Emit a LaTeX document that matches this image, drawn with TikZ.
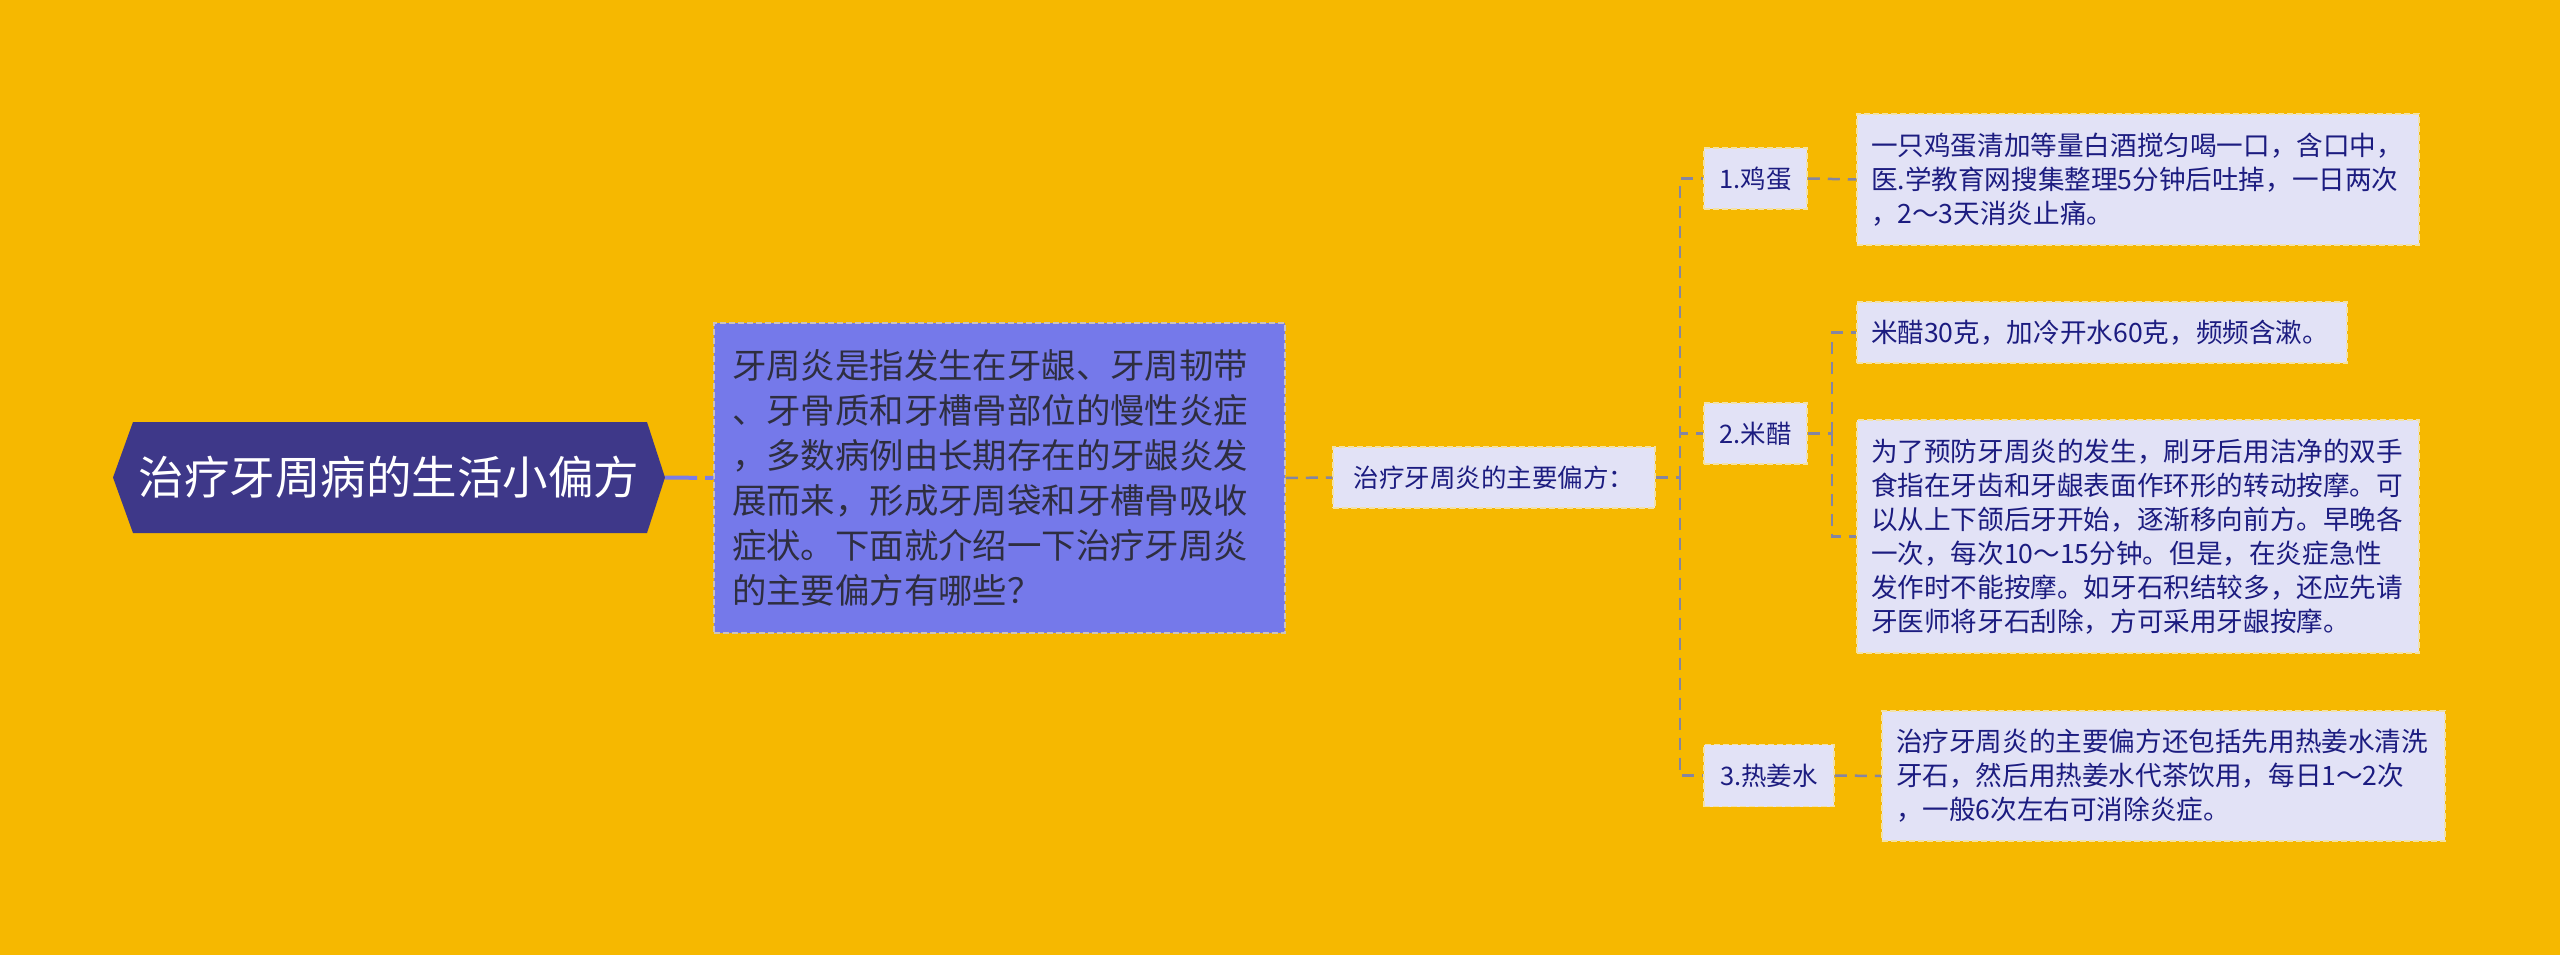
\documentclass[tikz,border=0pt]{standalone}
\usepackage{fontspec}
\setmainfont{Noto Sans CJK SC}
\definecolor{bgc}{HTML}{F6B800}
\definecolor{rootfill}{HTML}{3E3889}
\definecolor{descfill}{HTML}{7579EA}
\definecolor{desctext}{HTML}{2E2E40}
\definecolor{leaffill}{HTML}{E2E2F6}
\definecolor{leaftext}{HTML}{1C1C80}
\definecolor{connc}{HTML}{8585A2}
\definecolor{bordc}{HTML}{F3E2A6}
\definecolor{rootline}{HTML}{7B7DE6}
\tikzset{
  leafbox/.style={draw=bordc, line width=1.5pt, dash pattern=on 6pt off 3pt, fill=leaffill,
    text=leaftext, align=left, inner xsep=14pt, inner ysep=0pt,
    font=\fontsize{26.6}{34}\selectfont},
  midbox/.style={draw=bordc, line width=1.5pt, dash pattern=on 6pt off 3pt, fill=leaffill,
    text=leaftext, align=center, inner xsep=0pt, inner ysep=0pt,
    font=\fontsize{25.5}{30}\selectfont},
  descbox/.style={draw=bordc!70!descfill, line width=1.5pt, dash pattern=on 6pt off 3pt, fill=descfill,
    text=desctext, align=left, inner xsep=18pt, inner ysep=0pt,
    font=\fontsize{34.4}{45}\selectfont},
  conn/.style={draw=connc, line width=2.5pt, dash pattern=on 12pt off 8pt},
  rootconn/.style={draw=rootline, line width=4pt, dash pattern=on 32pt off 8pt}
}
\begin{document}
\begin{tikzpicture}[x=1pt,y=-1pt]
\useasboundingbox (0,0) rectangle (2560,955);
\fill[bgc] (0,0) rectangle (2560,955);
% root hexagon
\fill[rootfill] (113,477.5) -- (133,422) -- (647,422) -- (665,477.5) -- (647,533) -- (133,533) -- cycle;
\node[text=white, font=\fontsize{45.5}{52}\selectfont, minimum width=552pt, minimum height=111pt, inner sep=0pt] (root) at (389,477.5) {治疗牙周病的生活小偏方};
% description
\node[descbox, text width=535pt, minimum height=310pt] (desc) at (999.5,478) {牙周炎是指发生在牙龈、牙周韧带\\、牙骨质和牙槽骨部位的慢性炎症\\，多数病例由长期存在的牙龈炎发\\展而来，形成牙周袋和牙槽骨吸收\\症状。下面就介绍一下治疗牙周炎\\的主要偏方有哪些？};
% middle
\node[midbox, minimum width=322pt, minimum height=61pt] (mid) at (1494,477.5) {治疗牙周炎的主要偏方：};
\coordinate (tk) at (1680,477.5);
\node[midbox, minimum width=103pt, minimum height=61pt] (n1) at (1755.5,178.5) {1.鸡蛋};
\node[midbox, minimum width=103pt, minimum height=61pt] (n2) at (1755.5,433.5) {2.米醋};
\node[midbox, minimum width=130pt, minimum height=62pt] (n3) at (1769,775.5) {3.热姜水};
\coordinate (st) at (1832,433.5);
% leaves
\node[leafbox, text width=534pt, minimum height=131pt] (l1) at (2138,179.5) {一只鸡蛋清加等量白酒搅匀喝一口，含口中，\\医.学教育网搜集整理5分钟后吐掉，一日两次\\，2～3天消炎止痛。};
\node[leafbox, text width=462pt, minimum height=61pt] (l2a) at (2102,332.5) {米醋30克，加冷开水60克，频频含漱。};
\node[leafbox, text width=534pt, minimum height=233pt] (l2b) at (2138,536.5) {为了预防牙周炎的发生，刷牙后用洁净的双手\\食指在牙齿和牙龈表面作环形的转动按摩。可\\以从上下颌后牙开始，逐渐移向前方。早晚各\\一次，每次10～15分钟。但是，在炎症急性\\发作时不能按摩。如牙石积结较多，还应先请\\牙医师将牙石刮除，方可采用牙龈按摩。};
\node[leafbox, text width=535pt, minimum height=130pt] (l3) at (2163.5,776) {治疗牙周炎的主要偏方还包括先用热姜水清洗\\牙石，然后用热姜水代茶饮用，每日1～2次\\，一般6次左右可消除炎症。};
% connectors
\draw[rootconn] (root.east) -- (desc.west);
\draw[conn] (desc.east) -- (mid.west);
\draw[conn] (mid.east) -- (tk);
\draw[conn] (tk) |- (n1.west);
\draw[conn] (tk) |- (n2.west);
\draw[conn] (tk) |- (n3.west);
\draw[conn] (n1.east) -- (l1.west);
\draw[conn] (n2.east) -- (st);
\draw[conn] (st) |- (l2a.west);
\draw[conn] (st) |- (l2b.west);
\draw[conn] (n3.east) -- (l3.west);
\end{tikzpicture}
\end{document}
